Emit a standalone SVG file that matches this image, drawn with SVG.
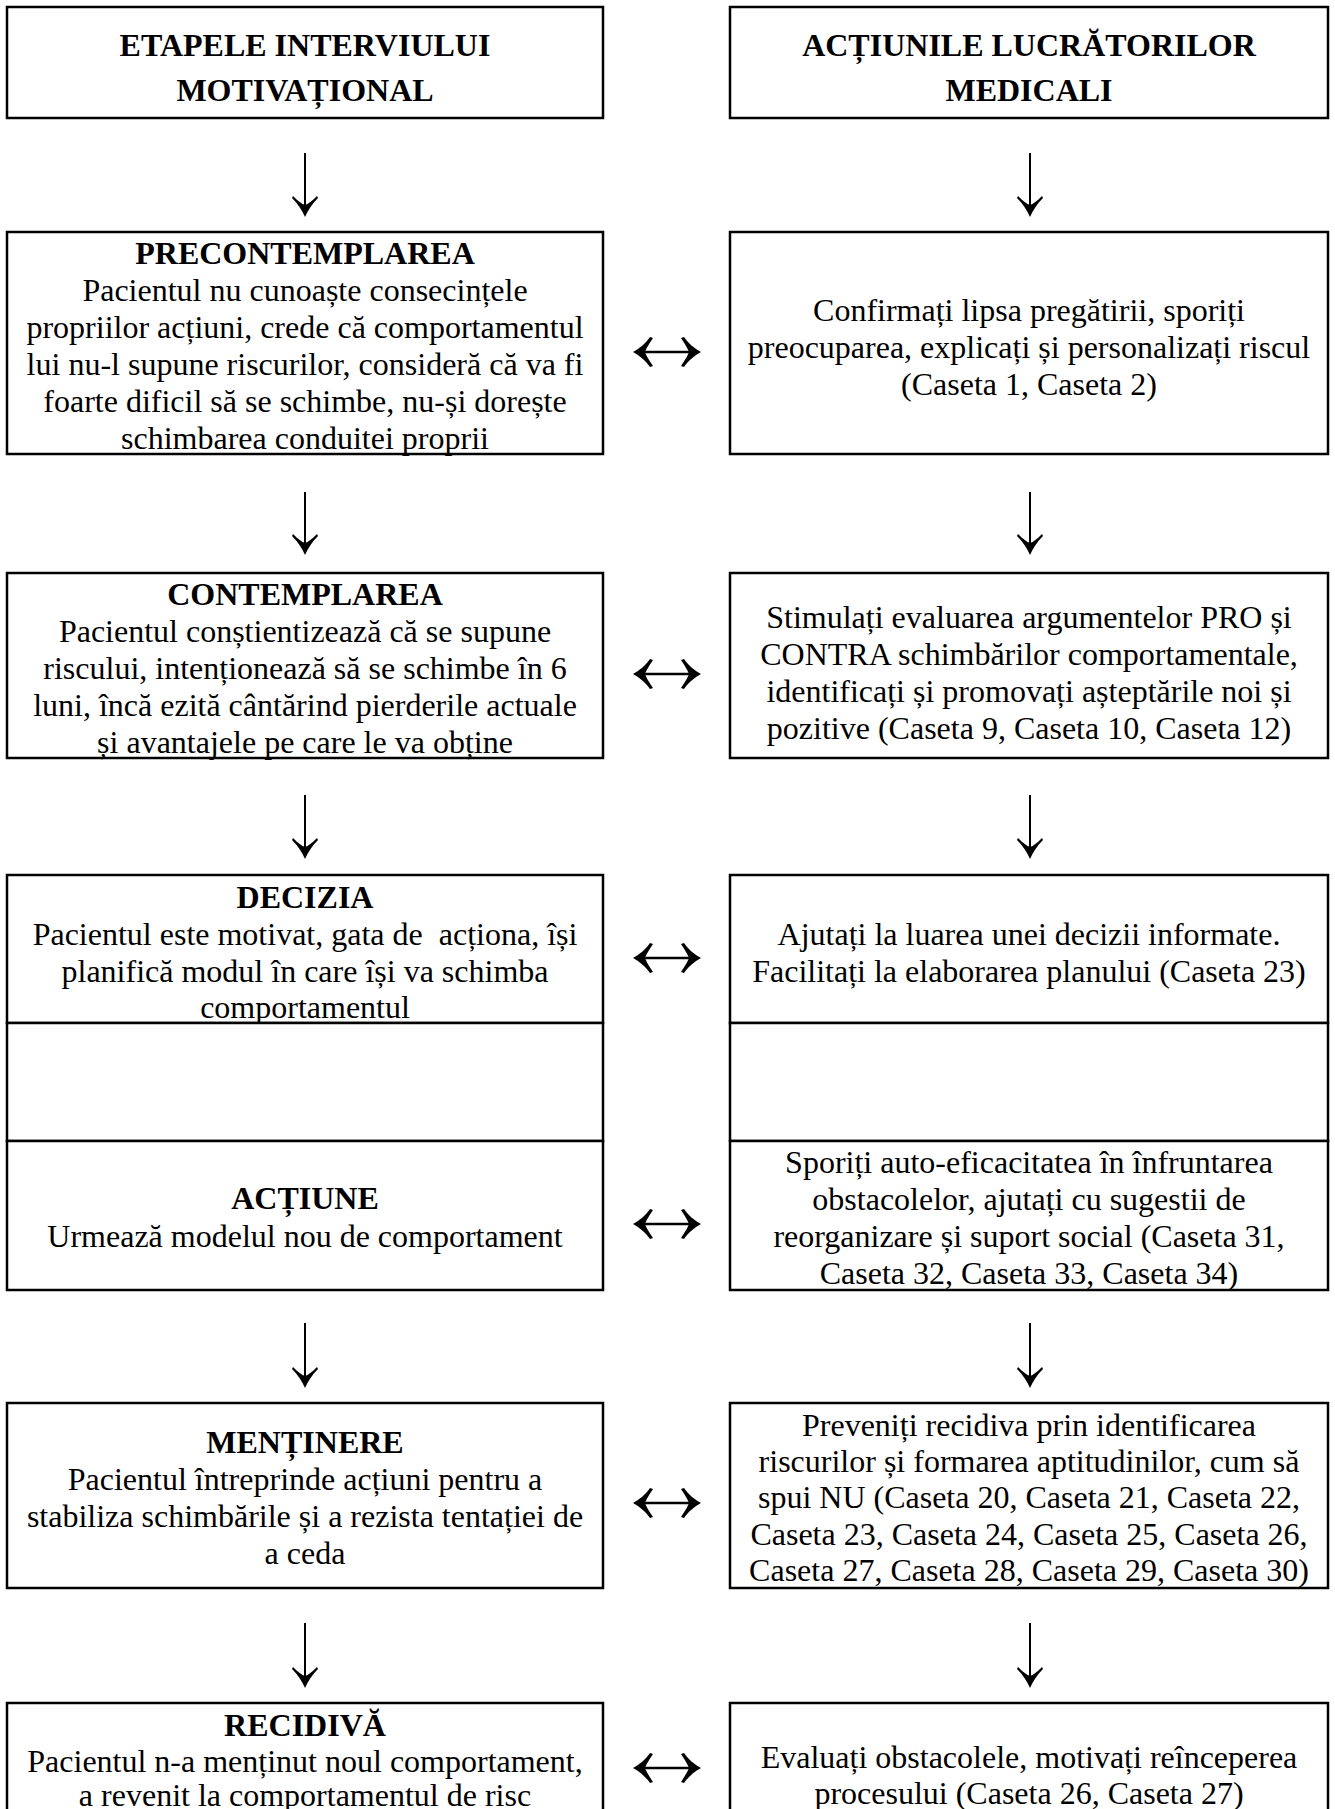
<svg xmlns="http://www.w3.org/2000/svg" width="1335" height="1809" viewBox="0 0 1335 1809">
<style>
.box{fill:#fff;stroke:#000;stroke-width:2.5}
.t{font-family:"Liberation Serif","Times New Roman",serif;font-size:32px;fill:#000;text-anchor:middle}
.b{font-weight:bold}
.con{stroke:#000;stroke-width:2;fill:none}
.d{marker-end:url(#head)}
.h{stroke-width:2.6;marker-start:url(#headH);marker-end:url(#headH)}
</style>
<defs>
<marker id="head" viewBox="-22 -14 34 28" refX="-9" refY="0" markerWidth="34" markerHeight="28" markerUnits="userSpaceOnUse" orient="auto-start-reverse">
<path d="M0,0 C-7,-3 -13,-7 -19,-13 L-21,-12 C-16,-7 -13,-3 -12,0 C-13,3 -16,7 -21,12 L-19,13 C-13,7 -7,3 0,0 Z" fill="#000"/>
</marker>
<marker id="headH" viewBox="-22 -16 34 32" refX="-9" refY="0" markerWidth="34" markerHeight="32" markerUnits="userSpaceOnUse" orient="auto-start-reverse">
<path d="M0,0 C-7,-4 -12,-8 -17,-15 L-20,-14 C-16,-8 -13,-3 -12,0 C-13,3 -16,8 -20,14 L-17,15 C-12,8 -7,4 0,0 Z" fill="#000"/>
</marker>
</defs>

<g id="connectors">
<line class="con d" x1="305" y1="153" x2="305" y2="208"/>
<line class="con d" x1="1030" y1="153" x2="1030" y2="208"/>
<line class="con d" x1="305" y1="492" x2="305" y2="546"/>
<line class="con d" x1="1030" y1="492" x2="1030" y2="546"/>
<line class="con d" x1="305" y1="795" x2="305" y2="850"/>
<line class="con d" x1="1030" y1="795" x2="1030" y2="850"/>
<line class="con d" x1="305" y1="1060" x2="305" y2="1115"/>
<line class="con d" x1="1030" y1="1060" x2="1030" y2="1115"/>
<line class="con d" x1="305" y1="1323" x2="305" y2="1379"/>
<line class="con d" x1="1030" y1="1323" x2="1030" y2="1379"/>
<line class="con d" x1="305" y1="1623" x2="305" y2="1679"/>
<line class="con d" x1="1030" y1="1623" x2="1030" y2="1679"/>
<line class="con h" x1="642" y1="352" x2="692" y2="352"/>
<line class="con h" x1="642" y1="674" x2="692" y2="674"/>
<line class="con h" x1="642" y1="958" x2="692" y2="958"/>
<line class="con h" x1="642" y1="1224" x2="692" y2="1224"/>
<line class="con h" x1="642" y1="1503" x2="692" y2="1503"/>
<line class="con h" x1="642" y1="1768" x2="692" y2="1768"/>
</g>

<g id="header-left">
<rect class="box" x="7" y="7" width="596" height="111"/>
<text class="t b" x="305" y="56">ETAPELE INTERVIULUI</text>
<text class="t b" x="305" y="101">MOTIVAȚIONAL</text>
</g>
<g id="header-right">
<rect class="box" x="730" y="7" width="598" height="111"/>
<text class="t b" x="1029" y="56">ACȚIUNILE LUCRĂTORILOR</text>
<text class="t b" x="1029" y="101">MEDICALI</text>
</g>

<g id="precontemplarea">
<rect class="box" x="7" y="232" width="596" height="222"/>
<text class="t b" x="305" y="264">PRECONTEMPLAREA</text>
<text class="t" x="305" y="301">Pacientul nu cunoaște consecințele</text>
<text class="t" x="305" y="338">propriilor acțiuni, crede că comportamentul</text>
<text class="t" x="305" y="375">lui nu-l supune riscurilor, consideră că va fi</text>
<text class="t" x="305" y="412">foarte dificil să se schimbe, nu-și dorește</text>
<text class="t" x="305" y="449">schimbarea conduitei proprii</text>
</g>
<g id="actiuni-precontemplare">
<rect class="box" x="730" y="232" width="598" height="222"/>
<text class="t" x="1029" y="321">Confirmați lipsa pregătirii, sporiți</text>
<text class="t" x="1029" y="358">preocuparea, explicați și personalizați riscul</text>
<text class="t" x="1029" y="395">(Caseta 1, Caseta 2)</text>
</g>

<g id="contemplarea">
<rect class="box" x="7" y="573" width="596" height="185"/>
<text class="t b" x="305" y="605">CONTEMPLAREA</text>
<text class="t" x="305" y="642">Pacientul conștientizează că se supune</text>
<text class="t" x="305" y="679">riscului, intenționează să se schimbe în 6</text>
<text class="t" x="305" y="716">luni, încă ezită cântărind pierderile actuale</text>
<text class="t" x="305" y="753">și avantajele pe care le va obține</text>
</g>
<g id="actiuni-contemplare">
<rect class="box" x="730" y="573" width="598" height="185"/>
<text class="t" x="1029" y="628">Stimulați evaluarea argumentelor PRO și</text>
<text class="t" x="1029" y="665">CONTRA schimbărilor comportamentale,</text>
<text class="t" x="1029" y="702">identificați și promovați așteptările noi și</text>
<text class="t" x="1029" y="739">pozitive (Caseta 9, Caseta 10, Caseta 12)</text>
</g>

<g id="decizia">
<rect class="box" x="7" y="875" width="596" height="148"/>
<text class="t b" x="305" y="908">DECIZIA</text>
<text class="t" x="305" y="945" xml:space="preserve">Pacientul este motivat, gata de  acționa, își</text>
<text class="t" x="305" y="982">planifică modul în care își va schimba</text>
<text class="t" x="305" y="1018">comportamentul</text>
</g>
<g id="actiuni-decizie">
<rect class="box" x="730" y="875" width="598" height="148"/>
<text class="t" x="1029" y="945">Ajutați la luarea unei decizii informate.</text>
<text class="t" x="1029" y="982">Facilitați la elaborarea planului (Caseta 23)</text>
</g>

<g id="spacer-left">
<rect class="box" x="7" y="1023" width="596" height="118"/>
</g>
<g id="spacer-right">
<rect class="box" x="730" y="1023" width="598" height="118"/>
</g>

<g id="actiune">
<rect class="box" x="7" y="1141" width="596" height="149"/>
<text class="t b" x="305" y="1209">ACȚIUNE</text>
<text class="t" x="305" y="1247">Urmează modelul nou de comportament</text>
</g>
<g id="actiuni-actiune">
<rect class="box" x="730" y="1141" width="598" height="149"/>
<text class="t" x="1029" y="1173">Sporiți auto-eficacitatea în înfruntarea</text>
<text class="t" x="1029" y="1210">obstacolelor, ajutați cu sugestii de</text>
<text class="t" x="1029" y="1247">reorganizare și suport social (Caseta 31,</text>
<text class="t" x="1029" y="1284">Caseta 32, Caseta 33, Caseta 34)</text>
</g>

<g id="mentinere">
<rect class="box" x="7" y="1403" width="596" height="185"/>
<text class="t b" x="305" y="1453">MENȚINERE</text>
<text class="t" x="305" y="1490">Pacientul întreprinde acțiuni pentru a</text>
<text class="t" x="305" y="1527">stabiliza schimbările și a rezista tentației de</text>
<text class="t" x="305" y="1564">a ceda</text>
</g>
<g id="actiuni-mentinere">
<rect class="box" x="730" y="1403" width="598" height="185"/>
<text class="t" x="1029" y="1436">Preveniți recidiva prin identificarea</text>
<text class="t" x="1029" y="1472">riscurilor și formarea aptitudinilor, cum să</text>
<text class="t" x="1029" y="1508">spui NU (Caseta 20, Caseta 21, Caseta 22,</text>
<text class="t" x="1029" y="1545">Caseta 23, Caseta 24, Caseta 25, Caseta 26,</text>
<text class="t" x="1029" y="1581">Caseta 27, Caseta 28, Caseta 29, Caseta 30)</text>
</g>

<g id="recidiva">
<rect class="box" x="7" y="1703" width="596" height="130"/>
<text class="t b" x="305" y="1736">RECIDIVĂ</text>
<text class="t" x="305" y="1772">Pacientul n-a menținut noul comportament,</text>
<text class="t" x="305" y="1806">a revenit la comportamentul de risc</text>
</g>
<g id="actiuni-recidiva">
<rect class="box" x="730" y="1703" width="598" height="130"/>
<text class="t" x="1029" y="1768">Evaluați obstacolele, motivați reînceperea</text>
<text class="t" x="1029" y="1804">procesului (Caseta 26, Caseta 27)</text>
</g>
</svg>
